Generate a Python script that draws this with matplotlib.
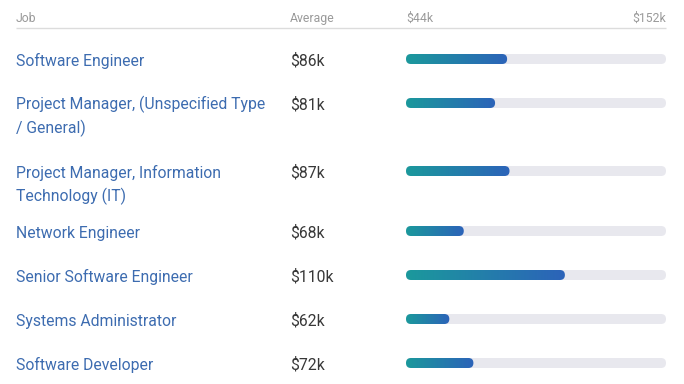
import matplotlib
matplotlib.use("Agg")
import matplotlib.pyplot as plt
import numpy as np
from matplotlib.patches import FancyBboxPatch
from matplotlib.colors import LinearSegmentedColormap

jobs = [
    "Software Engineer",
    "Project Manager, (Unspecified Type\n/ General)",
    "Project Manager, Information\nTechnology (IT)",
    "Network Engineer",
    "Senior Software Engineer",
    "Systems Administrator",
    "Software Developer",
]
averages = [86, 81, 87, 68, 110, 62, 72]
avg_labels = ["$86k", "$81k", "$87k", "$68k", "$110k", "$62k", "$72k"]
range_min, range_max = 44, 152
range_labels = ["$44k", "$152k"]

plt.rcParams['font.family'] = ['Roboto', 'DejaVu Sans']

W, H = 684, 384
fig = plt.figure(figsize=(W / 100, H / 100), dpi=100)
ax = fig.add_axes([0, 0, 1, 1])
ax.set_xlim(0, W)
ax.set_ylim(H, 0)
ax.axis("off")

hdr_c = "#9a9a9a"
hy = 22.3
hfs = 8.8
ax.text(16, hy, "Job", fontsize=hfs, color=hdr_c, va="baseline", ha="left")
ax.text(290, hy, "Average", fontsize=hfs, color=hdr_c, va="baseline", ha="left")
ax.text(406, hy, range_labels[0], fontsize=hfs, color=hdr_c, va="baseline", ha="left")
ax.text(666, hy, range_labels[1], fontsize=hfs, color=hdr_c, va="baseline", ha="right")
ax.plot([16, 666], [27.5, 27.5], color="#dcdcdc", lw=1, solid_capstyle="butt")

# layout rows (pixel pitch between row starts)
line_h = 24
row_pitch = [44, 68, 60, 44, 44, 44]
centers = [59]
for p in row_pitch:
    centers.append(centers[-1] + p)

job_c = "#3d6cb0"
dy = 6.6
fs = 11.3
for j, v, yc in zip(jobs, avg_labels, centers):
    for i, line in enumerate(j.split("\n")):
        ax.text(16, yc + i * line_h + dy, line, fontsize=fs, color=job_c, va="baseline", ha="left")
    ax.text(290, yc + dy, v, fontsize=fs, color="#383838", va="baseline", ha="left")

# bar axes
x0, x1 = 406, 666
bax = fig.add_axes([x0 / W, 0, (x1 - x0) / W, 1])
bax.set_xlim(range_min, range_max)
bax.set_ylim(H, 0)
bax.axis("off")

px_per_x = (x1 - x0) / (range_max - range_min)
r_px = 5
bh = 10
aspect = px_per_x
cmap = LinearSegmentedColormap.from_list("g", ["#1b999c", "#2c63b9"])
grad = np.linspace(0, 1, 256).reshape(1, -1)

for val, yc in zip(averages, centers):
    track = FancyBboxPatch((range_min, yc - bh / 2), range_max - range_min, bh,
                           boxstyle=f"round,pad=0,rounding_size={r_px / px_per_x}",
                           mutation_aspect=aspect, fc="#e8e8ee", ec="none")
    bax.add_patch(track)
    bar = FancyBboxPatch((range_min, yc - bh / 2), val - range_min, bh,
                         boxstyle=f"round,pad=0,rounding_size={r_px / px_per_x}",
                         mutation_aspect=aspect, fc="none", ec="none")
    bax.add_patch(bar)
    im = bax.imshow(grad, cmap=cmap, aspect="auto",
                    extent=(range_min, val, yc + bh / 2, yc - bh / 2), zorder=3)
    im.set_clip_path(bar)

bax.set_xlim(range_min, range_max)
bax.set_ylim(H, 0)

fig.savefig("out.png", dpi=100)
